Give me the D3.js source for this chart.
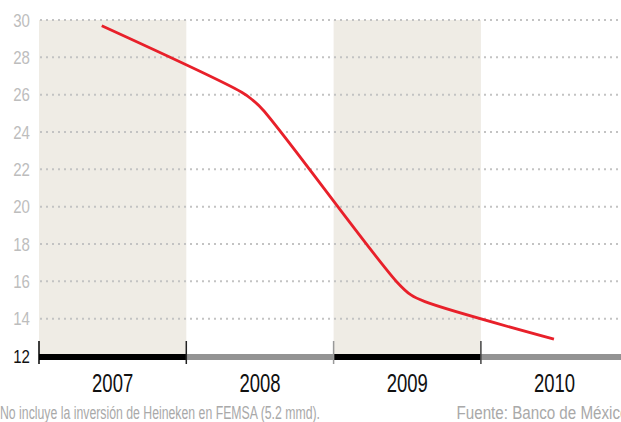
<!DOCTYPE html>
<html lang="es">
<head>
<meta charset="utf-8">
<title>Inversión</title>
<script src="https://d3js.org/d3.v7.min.js"></script>
<style>
  body { margin: 0; background: #fff; }
  svg { display: block; font-family: "Liberation Sans", Arial, sans-serif; }
</style>
</head>
<body>
<div id="chart"></div>
<script>
// years shown on the axis
var years = [2007, 2008, 2009, 2010];
// y ticks
var yTicks = [12, 14, 16, 18, 20, 22, 24, 26, 28, 30];
// line readings: decimal year, value
var lineYears  = [2007.426, 2008.376, 2008.446, 2008.521, 2009.428, 2009.525, 2009.620, 2010.496];
var lineValues = [29.69, 26.13, 25.74, 25.18, 15.98, 15.27, 14.91, 12.90];

var note = "No incluye la inversión de Heineken en FEMSA (5.2 mmd).";
var source = "Fuente: Banco de México";

var width = 621, height = 422;
var svg = d3.select("#chart").append("svg")
    .attr("width", width)
    .attr("height", height);

var x = d3.scaleLinear().domain([2007, 2011]).range([39, 628.2]);
var y = d3.scaleLinear().domain([12, 30]).range([356, 20]);

// shaded bands for alternate years
svg.selectAll(".band")
  .data(years.filter(function(d, i) { return i % 2 === 0; }))
  .enter().append("rect")
    .attr("x", function(d) { return x(d); })
    .attr("y", y(30))
    .attr("width", function(d) { return x(d + 1) - x(d); })
    .attr("height", y(12) - y(30))
    .attr("fill", "#efece5");

// dotted grid
svg.selectAll(".grid")
  .data(yTicks.filter(function(d) { return d > 12; }))
  .enter().append("line")
    .attr("x1", x(2007) + 1)
    .attr("x2", width)
    .attr("y1", function(d) { return y(d); })
    .attr("y2", function(d) { return y(d); })
    .attr("stroke", "#c3c3c3")
    .attr("stroke-width", 2)
    .attr("stroke-dasharray", "2,4");

// y labels (condensed look via horizontal squeeze)
svg.selectAll(".ylab")
  .data(yTicks)
  .enter().append("text")
    .attr("transform", function(d) { return "translate(30," + (y(d) + 6.5) + ") scale(0.86,1)"; })
    .attr("text-anchor", "end")
    .attr("font-size", 17.5)
    .attr("fill", function(d) { return d === 12 ? "#111" : "#bdbdbd"; })
    .text(function(d) { return d; });

// axis bar segments
svg.selectAll(".seg")
  .data(years)
  .enter().append("line")
    .attr("x1", function(d) { return x(d); })
    .attr("x2", function(d) { return x(d + 1); })
    .attr("y1", y(12) + 1)
    .attr("y2", y(12) + 1)
    .attr("stroke", function(d, i) { return i % 2 === 0 ? "#000" : "#939393"; })
    .attr("stroke-width", 6);

// tick marks
var tickColors = ["#000", "#222", "#999", "#444"];
svg.selectAll(".tick")
  .data(years)
  .enter().append("line")
    .attr("x1", function(d) { return x(d); })
    .attr("x2", function(d) { return x(d); })
    .attr("y1", 341)
    .attr("y2", 364)
    .attr("stroke", function(d, i) { return tickColors[i]; })
    .attr("stroke-width", 1.5);

// year labels
svg.selectAll(".xlab")
  .data(years)
  .enter().append("text")
    .attr("transform", function(d) { return "translate(" + ((x(d) + x(d + 1)) / 2) + ",392) scale(0.74,1)"; })
    .attr("text-anchor", "middle")
    .attr("font-size", 25)
    .attr("fill", "#111")
    .text(function(d) { return d; });

// the line
var pts = lineYears.map(function(d, i) { return [d, lineValues[i]]; });
var line = d3.line()
    .x(function(d) { return x(d[0]); })
    .y(function(d) { return y(d[1]); })
    .curve(d3.curveCatmullRom.alpha(0.5));

svg.append("path")
    .datum(pts)
    .attr("d", line)
    .attr("fill", "none")
    .attr("stroke", "#e8202a")
    .attr("stroke-width", 2.8);

// footnotes
svg.append("text")
    .attr("x", 0)
    .attr("y", 419)
    .attr("font-size", 17.5)
    .attr("fill", "#a9a9a9")
    .attr("textLength", 320)
    .attr("lengthAdjust", "spacingAndGlyphs")
    .text(note);

svg.append("text")
    .attr("x", 456.5)
    .attr("y", 419)
    .attr("font-size", 17.5)
    .attr("fill", "#a9a9a9")
    .attr("textLength", 172)
    .attr("lengthAdjust", "spacingAndGlyphs")
    .text(source);
</script>
</body>
</html>
